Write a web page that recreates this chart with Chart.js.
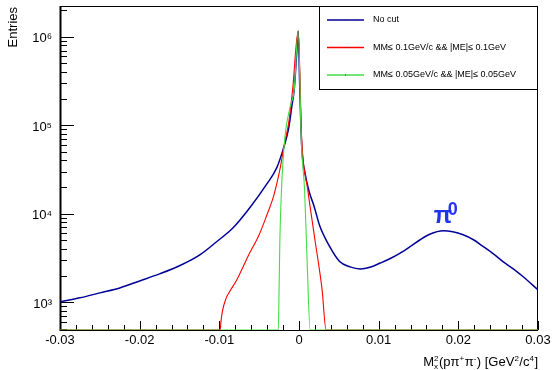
<!DOCTYPE html>
<html>
<head>
<meta charset="utf-8">
<script src="https://cdn.jsdelivr.net/npm/chart.js@4.4.1/dist/chart.umd.min.js"></script>
<style>
  body { margin: 0; background: #fff; }
</style>
</head>
<body>
<canvas id="myChart" width="552" height="370"></canvas>
<script>
var FONT = '"Liberation Sans", Arial, Helvetica, sans-serif';

// axis ranges
var YMIN = 485, YMAX = 2.23e6;

// tick labels
var xTickValues = [-0.03, -0.02, -0.01, 0, 0.01, 0.02, 0.03];
var xTickLabels = ['-0.03', '-0.02', '-0.01', '0', '0.01', '0.02', '0.03'];
var yTickValues = [1e3, 1e4, 1e5, 1e6];
var yTickLabels = ['10³', '10⁴', '10⁵', '10⁶'];

// "No cut"
var noCutX = [-0.0300, -0.0275, -0.0250, -0.0225, -0.0200, -0.0175, -0.0150, -0.0124, -0.0103, -0.0083,
    -0.0062, -0.0041, -0.0028, -0.0020, -0.0013, -0.0009, -0.0006, -0.0003, -0.0001,
    0.0001, 0.00034, 0.00075, 0.0013, 0.0019, 0.0026, 0.0037, 0.0051, 0.0064,
    0.0077, 0.0089, 0.0102, 0.0114, 0.0127, 0.0139, 0.0152, 0.0164, 0.0181, 0.0193,
    0.0206, 0.0219, 0.0231, 0.0244, 0.0256, 0.0269, 0.0281, 0.0300];
var noCutY = [1010, 1120, 1275, 1450, 1740, 2090, 2580, 3450, 4860, 6890,
    11600, 21300, 33000, 53100, 92000, 164000, 254000, 631000, 1160000,
    258000, 57800, 28900, 17500, 12100, 7300, 4500, 2880, 2510,
    2380, 2480, 2770, 3100, 3590, 4220, 5080, 5860, 6410, 6250,
    5780, 5080, 4270, 3520, 2880, 2380, 1950, 1380];

// MM <= 0.1GeV/c && |ME| <= 0.1GeV  (0 = empty bin)
var cut1X = [-0.0300, -0.0099, -0.0098, -0.0096, -0.0092, -0.0087, -0.0078, -0.0070, -0.0062, -0.0051,
    -0.0041, -0.0032, -0.0024, -0.0018, -0.0013, -0.0008, -0.0001,
    0.00034, 0.0011, 0.0020, 0.0029, 0.0034, 0.0300];
var cut1Y = [0, 0, 600, 800, 1080, 1320, 1790, 2530, 3590, 5530,
    9320, 15700, 31500, 63200, 106000, 254000, 1160000,
    68900, 18700, 5080, 1380, 0, 0];

// MM <= 0.05GeV/c && |ME| <= 0.05GeV
var cut2X = [-0.0300, -0.0026, -0.0025, -0.0024, -0.0022, -0.0018, -0.0011, -0.0006, -0.0001,
    0.0003, 0.0007, 0.0010, 0.0014, 0.0300];
var cut2Y = [0, 0, 1380, 5080, 18700, 68900, 164000, 254000, 1160000,
    62000, 18700, 3280, 0, 0];

var legendItems = [
    ['No cut', '#000099'],
    ['MM≤ 0.1GeV/c && |ME|≤ 0.1GeV', '#ff0000'],
    ['MM≤ 0.05GeV/c && |ME|≤ 0.05GeV', '#44dd44']
];

function points(xs, ys) {
    // empty bins sit on the bottom of the log axis
    return xs.map(function (x, i) { return { x: x, y: ys[i] > 0 ? ys[i] : YMIN }; });
}

function drawRich(ctx, parts, xRight, base, size) {
    var big = size + 'px ' + FONT, small = Math.round(size * 0.65) + 'px ' + FONT;
    var widths = parts.map(function (p) {
        ctx.font = p.s == 'n' ? big : small;
        var w = ctx.measureText(p.t).width;
        if (p.sub) w = Math.max(w, ctx.measureText(p.sub).width);
        return w + (p.s == 'n' ? 0 : 0.5);
    });
    var x = xRight - widths.reduce(function (a, b) { return a + b; }, 0);
    ctx.textAlign = 'left';
    ctx.textBaseline = 'alphabetic';
    parts.forEach(function (p, i) {
        if (p.s == 'n') {
            ctx.font = big;
            ctx.fillText(p.t, x, base);
        } else {
            ctx.font = small;
            ctx.fillText(p.t, x, base - size * 0.42);
            if (p.sub) ctx.fillText(p.sub, x, base + size * 0.2);
        }
        x += widths[i];
    });
}

var rootStyle = {
    id: 'rootStyle',
    beforeDatasetsDraw: function (chart) {
        var ctx = chart.ctx, a = chart.chartArea, xs = chart.scales.x, ys = chart.scales.y;
        ctx.save();
        ctx.strokeStyle = '#000';
        ctx.lineWidth = 1;
        ctx.strokeRect(a.left + 0.5, a.top + 0.5, a.right - a.left - 1, a.bottom - a.top);
        ctx.beginPath();
        // x ticks, 5 subdivisions
        for (var i = -15; i <= 15; i++) {
            var px = Math.round(xs.getPixelForValue(i * 0.002)) + 0.5;
            var len = (i % 5 == 0) ? 9 : 5;
            ctx.moveTo(px, a.bottom);
            ctx.lineTo(px, a.bottom - len);
        }
        // y ticks, decades + 2..9
        for (var k = 2; k <= 6; k++) {
            for (var m = 1; m <= 9; m++) {
                var v = m * Math.pow(10, k);
                if (v < YMIN || v > YMAX) continue;
                var py = Math.round(ys.getPixelForValue(v)) + 0.5;
                ctx.moveTo(a.left, py);
                ctx.lineTo(a.left + (m == 1 ? 14 : 7), py);
            }
        }
        ctx.stroke();
        ctx.lineWidth = 2;
        ctx.beginPath();
        ctx.moveTo(a.left + 0.5, a.top);
        ctx.lineTo(a.left + 0.5, a.bottom + 1);
        ctx.stroke();
        ctx.restore();
    },
    afterDraw: function (chart) {
        var ctx = chart.ctx, a = chart.chartArea, xs = chart.scales.x, ys = chart.scales.y;
        ctx.save();
        // legend box
        var lx = 319, ly = a.top, lw = a.right - 319, lh = 83;
        ctx.fillStyle = '#fff';
        ctx.fillRect(lx, ly, lw, lh);
        ctx.strokeStyle = '#000';
        ctx.lineWidth = 1;
        ctx.strokeRect(lx + 0.5, ly + 0.5, lw - 1, lh);
        ctx.font = '9px ' + FONT;
        ctx.textBaseline = 'middle';
        ctx.textAlign = 'left';
        legendItems.forEach(function (it, i) {
            var y = ly + 14 + i * 27.5;
            ctx.strokeStyle = it[1];
            ctx.lineWidth = 1.5;
            ctx.beginPath();
            ctx.moveTo(327, y);
            ctx.lineTo(364, y);
            ctx.stroke();
            ctx.fillStyle = '#333';
            ctx.fillRect(345, y - 0.5, 1, 1);
            ctx.fillStyle = '#000';
            ctx.fillText(it[0], 373, y);
        });
        // y axis title, rotated
        ctx.save();
        ctx.setTransform(0, -1, 1, 0, 13, a.top + 1);
        ctx.font = '13px ' + FONT;
        ctx.textAlign = 'right';
        ctx.textBaseline = 'middle';
        ctx.fillText('Entries', 0, 0);
        ctx.restore();
        // x axis title
        ctx.fillStyle = '#000';
        drawRich(ctx, [
            { t: 'M', s: 'n' }, { t: '2', s: 'sup', sub: 'x' }, { t: '(pπ', s: 'n' }, { t: '+', s: 'sup' },
            { t: 'π', s: 'n' }, { t: '-', s: 'sup' }, { t: ') [GeV', s: 'n' }, { t: '2', s: 'sup' },
            { t: '/c', s: 'n' }, { t: '4', s: 'sup' }, { t: ']', s: 'n' }
        ], a.right, 366, 13);
        // pi0 label
        var px = xs.getPixelForValue(0.0169), py = ys.getPixelForValue(7900);
        ctx.fillStyle = '#2233ee';
        ctx.font = 'bold 24px ' + FONT;
        ctx.textBaseline = 'alphabetic';
        ctx.fillText('π', px, py);
        ctx.font = 'bold 18px ' + FONT;
        ctx.fillText('0', px + 14, py - 8);
        ctx.restore();
    }
};

new Chart(document.getElementById('myChart').getContext('2d'), {
    type: 'line',
    data: {
        datasets: [{
            label: legendItems[0][0],
            data: points(noCutX, noCutY),
            borderColor: '#000099',
            borderWidth: 1.5,
            order: 3
        }, {
            label: legendItems[1][0],
            data: points(cut1X, cut1Y),
            borderColor: '#ff0000',
            borderWidth: 1.1,
            order: 2
        }, {
            label: legendItems[2][0],
            data: points(cut2X, cut2Y),
            borderColor: '#44dd44',
            borderWidth: 1.1,
            order: 1
        }]
    },
    options: {
        responsive: false,
        animation: false,
        devicePixelRatio: 1,
        elements: { point: { radius: 0 }, line: { cubicInterpolationMode: 'monotone' } },
        layout: { padding: { top: 6, right: 14, left: 0, bottom: 0 } },
        plugins: { legend: { display: false }, tooltip: { enabled: false } },
        scales: {
            x: {
                type: 'linear',
                min: -0.03,
                max: 0.03,
                afterBuildTicks: function (s) { s.ticks = xTickValues.map(function (v) { return { value: v }; }); },
                afterFit: function (s) { s.height = 40; s.paddingLeft = 0; s.paddingRight = 0; },
                ticks: {
                    callback: function (v) { return xTickLabels[xTickValues.indexOf(v)]; },
                    font: { size: 13, family: FONT },
                    color: '#000',
                    padding: 3,
                    maxRotation: 0,
                    autoSkip: false
                },
                grid: { display: false, drawTicks: false },
                border: { display: false }
            },
            y: {
                type: 'logarithmic',
                min: YMIN,
                max: YMAX,
                afterBuildTicks: function (s) { s.ticks = yTickValues.map(function (v) { return { value: v }; }); },
                afterFit: function (s) { s.width = 60; s.paddingTop = 0; s.paddingBottom = 0; },
                ticks: {
                    callback: function (v) { return yTickLabels[yTickValues.indexOf(v)]; },
                    font: { size: 13, family: FONT },
                    color: '#000',
                    padding: 8,
                    labelOffset: 2
                },
                grid: { display: false, drawTicks: false },
                border: { display: false }
            }
        }
    },
    plugins: [rootStyle]
});
</script>
</body>
</html>
